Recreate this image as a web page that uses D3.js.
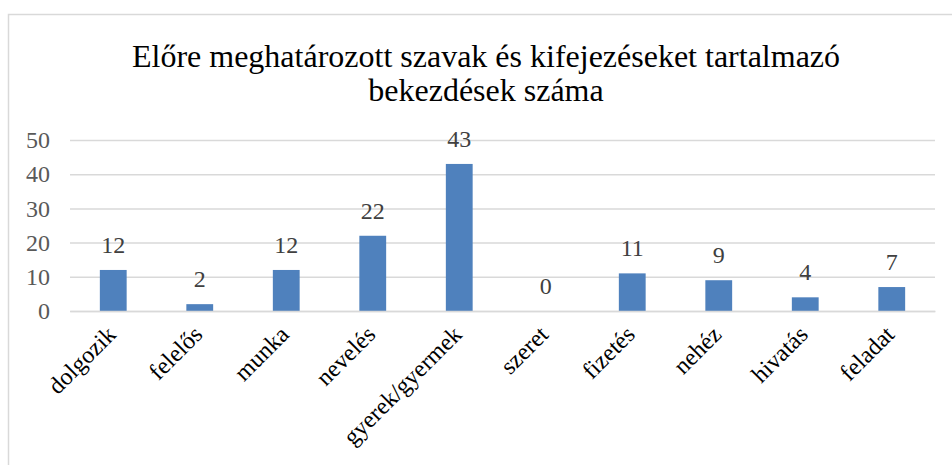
<!DOCTYPE html>
<html><head><meta charset="utf-8">
<script src="https://cdn.jsdelivr.net/npm/d3@7"></script>
<style>body{margin:0;background:#fff;} svg{display:block;}</style>
</head><body>
<svg id="c" width="952" height="465"></svg>
<script>
const titleLines = ["Előre meghatározott szavak és kifejezéseket tartalmazó", "bekezdések száma"];
const categories = ["dolgozik","felelős","munka","nevelés","gyerek/gyermek","szeret","fizetés","nehéz","hivatás","feladat"];
const values = [12,2,12,22,43,0,11,9,4,7];
const yTicks = [0,10,20,30,40,50];

const svg = d3.select("#c");
const font = "'Liberation Serif','Times New Roman',serif";
svg.append("rect").attr("x",8.5).attr("y",14.5).attr("width",1000).attr("height",1000)
  .attr("fill","#fff").attr("stroke","#d9d9d9").attr("stroke-width",1.5);

const x = d3.scaleBand().domain(categories).range([70,935]).paddingInner(0.69).paddingOuter(0.345);
const y = d3.scaleLinear().domain([0,50]).range([311,140]);

svg.append("g").selectAll("text").data(titleLines).join("text")
  .attr("x",486).attr("y",(d,i)=>67+i*34).attr("text-anchor","middle")
  .attr("font-family",font).attr("font-size",32).attr("fill","#000").text(d=>d);

const ya = svg.append("g").attr("transform","translate(70,0)")
  .call(d3.axisLeft(y).tickValues(yTicks).tickSize(-865).tickPadding(20));
ya.select(".domain").remove();
ya.selectAll(".tick line").attr("stroke","#d9d9d9").attr("stroke-width",1.5);
ya.selectAll(".tick text").attr("font-family",font).attr("font-size",24).attr("fill","#595959");

svg.append("g").selectAll("rect").data(values).join("rect")
  .attr("x",(d,i)=>x(categories[i])).attr("width",x.bandwidth())
  .attr("y",d=>y(d)).attr("height",d=>y(0)-y(d)).attr("fill","#4f81bd");

svg.append("g").selectAll("text").data(values).join("text")
  .attr("x",(d,i)=>x(categories[i])+x.bandwidth()/2).attr("y",d=>y(d)-17)
  .attr("text-anchor","middle").attr("font-family",font).attr("font-size",24)
  .attr("fill","#404040").text(d=>d);

const xa = svg.append("g").attr("transform","translate(0,311)")
  .call(d3.axisBottom(x).tickSize(0).tickPadding(0));
xa.select(".domain").attr("stroke","#d9d9d9").attr("stroke-width",1.5);
xa.selectAll(".tick text").attr("font-family",font).attr("font-size",24).attr("fill","#000")
  .attr("text-anchor","end").attr("dy",0).attr("y",0)
  .attr("transform","translate(4,25) rotate(-45)");
</script>
</body></html>
